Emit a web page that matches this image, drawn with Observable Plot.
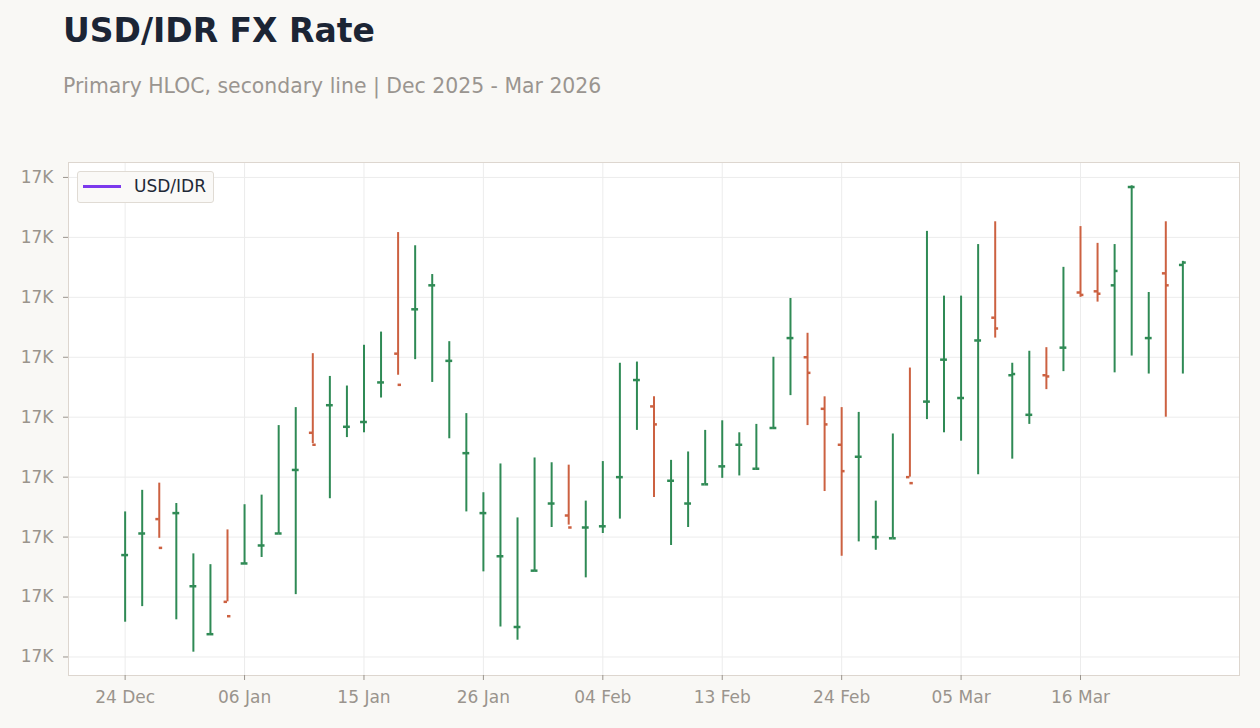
<!DOCTYPE html>
<html>
<head>
<meta charset="utf-8">
<script src="https://cdn.jsdelivr.net/npm/d3@7"></script>
<script src="https://cdn.jsdelivr.net/npm/@observablehq/plot@0.6"></script>
<style>
  html, body { margin: 0; padding: 0; background: #f9f8f5; width: 1260px; height: 728px; overflow: hidden; font-family: "DejaVu Sans", sans-serif; }
  #title { position: absolute; left: 63px; top: 14px; font-size: 33px; line-height: 33px; font-weight: bold; color: #1c2535; white-space: nowrap; }
  #subtitle { position: absolute; left: 63px; top: 76px; font-size: 20.4px; line-height: 20px; color: #9a9590; white-space: nowrap; }
  #chart { position: absolute; left: 0; top: 150px; }
  #legend { position: absolute; left: 77px; top: 171px; width: 135px; height: 30px; border: 1px solid #e0dbd4; border-radius: 3px; background: #faf9f7; }
  #legend .sw { position: absolute; left: 5px; top: 13px; width: 38px; height: 3px; background: #7c3aed; }
  #legend .lb { position: absolute; left: 56px; top: 6px; font-size: 17px; line-height: 17px; color: #1f2937; white-space: nowrap; }
</style>
</head>
<body>
<div id="title">USD/IDR FX Rate</div>
<div id="subtitle">Primary HLOC, secondary line | Dec 2025 - Mar 2026</div>
<div id="chart"></div>
<div id="legend"><div class="sw"></div><div class="lb">USD/IDR</div></div>
<script>
// Trading days
const dates = [
  "2025-12-24","2025-12-26","2025-12-29","2025-12-30","2025-12-31",
  "2026-01-02","2026-01-05","2026-01-06","2026-01-07","2026-01-08","2026-01-09",
  "2026-01-12","2026-01-13","2026-01-14","2026-01-15","2026-01-16",
  "2026-01-19","2026-01-20","2026-01-21","2026-01-22","2026-01-23",
  "2026-01-26","2026-01-27","2026-01-28","2026-01-29","2026-01-30",
  "2026-02-02","2026-02-03","2026-02-04","2026-02-05","2026-02-06",
  "2026-02-09","2026-02-10","2026-02-11","2026-02-12","2026-02-13",
  "2026-02-16","2026-02-17","2026-02-18","2026-02-19","2026-02-20",
  "2026-02-23","2026-02-24","2026-02-25","2026-02-26","2026-02-27",
  "2026-03-02","2026-03-03","2026-03-04","2026-03-05","2026-03-06",
  "2026-03-09","2026-03-10","2026-03-11","2026-03-12","2026-03-13",
  "2026-03-16","2026-03-17","2026-03-18","2026-03-19","2026-03-20",
  "2026-03-23","2026-03-24"
];
const highs = [
  16621,16639,16645,16628,16586,16577,16606,16627,16635,16693,16708,
  16753,16734,16726,16760,16771,16854,16843,16819,16763,16703,
  16637,16661,16616,16666,16662,16660,16630,16663,16745,16746,
  16717,16664,16671,16689,16697,16687,16694,16750,16799,16770,
  16717,16708,16704,16630,16686,16741,16855,16801,16801,16844,
  16863,16745,16755,16758,16825,16859,16845,16844,16893,16804,
  16863,16830
];
const lows = [
  16529,16542,16599,16531,16504,16519,16546,16578,16583,16603,16552,
  16678,16632,16683,16687,16716,16735,16748,16729,16682,16621,
  16571,16525,16514,16572,16608,16610,16566,16603,16615,16689,
  16633,16593,16608,16644,16649,16651,16657,16691,16718,16693,
  16638,16584,16596,16589,16599,16650,16698,16687,16680,16652,
  16766,16665,16694,16723,16738,16800,16796,16737,16751,16736,
  16700,16736
];
const opens = [
  16585,16603,16615,16620,16559,16519,16546,16578,16593,16603,16656,
  16687,16710,16692,16696,16729,16753,16790,16810,16747,16670,
  16620,16584,16525,16572,16628,16618,16608,16609,16650,16731,
  16709,16647,16628,16644,16659,16677,16657,16691,16766,16750,
  16707,16677,16667,16600,16599,16650,16713,16748,16716,16764,
  16783,16735,16702,16735,16758,16804,16805,16810,16892,16766,
  16820,16827
];
const closes = [
  16585,16603,16591,16620,16559,16519,16534,16578,16593,16603,16656,
  16677,16710,16692,16696,16729,16727,16790,16810,16747,16670,
  16620,16584,16525,16572,16628,16608,16608,16609,16650,16731,
  16694,16647,16628,16644,16659,16677,16657,16691,16766,16737,
  16694,16655,16667,16600,16599,16645,16713,16748,16716,16764,
  16774,16736,16702,16734,16758,16802,16803,16822,16892,16766,
  16810,16829
];
const xTickLabels = ["24 Dec","06 Jan","15 Jan","26 Jan","04 Feb","13 Feb","24 Feb","05 Mar","16 Mar"];
const yTicks = [16500,16550,16600,16650,16700,16750,16800,16850,16900];

const fmtDay = d3.utcFormat("%d %b");
const data = dates.map((d, i) => ({
  i, date: new Date(d + "T00:00:00Z"),
  open: opens[i], high: highs[i], low: lows[i], close: closes[i],
  up: closes[i] >= opens[i]
}));
const xTicks = data.filter(d => xTickLabels.includes(fmtDay(d.date))).map(d => d.i);
const labelByIndex = new Map(data.map(d => [d.i, fmtDay(d.date)]));

const GREEN = "#2f8a55", RED = "#cc6141";
const tl = 0.2;
const n = data.length;
const xspan = (n - 1) + 2 * tl;
const xDomain = [-tl - 0.05 * xspan, n - 1 + tl + 0.05 * xspan];
const yMin = d3.min(lows), yMax = d3.max(highs);
const yPad = 0.05 * (yMax - yMin);
const yDomain = [yMin - yPad, yMax + yPad];

const chart = Plot.plot({
  width: 1260,
  height: 578,
  marginTop: 12,
  marginBottom: 53,
  marginLeft: 68,
  marginRight: 21,
  style: { fontFamily: "DejaVu Sans, sans-serif", fontSize: "17px", color: "#9a948d", background: "transparent", overflow: "visible" },
  x: { type: "linear", domain: xDomain },
  y: { domain: yDomain },
  marks: [
    Plot.frame({ fill: "white", stroke: null }),
    Plot.gridY(yTicks, { stroke: "#ececec", strokeOpacity: 1 }),
    Plot.gridX(xTicks, { stroke: "#ececec", strokeOpacity: 1 }),
    Plot.frame({ stroke: "#ddd6cf" }),
    Plot.axisY({ ticks: yTicks, tickFormat: d => (d / 1000).toFixed(0) + "K", tickSize: 5, tickPadding: 10, stroke: "#9a948d", label: null }),
    Plot.axisX({ ticks: xTicks, tickFormat: i => labelByIndex.get(i), tickSize: 5, tickPadding: 10, stroke: "#9a948d", label: null }),
    Plot.ruleX(data, { x: "i", y1: "low", y2: "high", stroke: d => d.up ? GREEN : RED, strokeWidth: 2 }),
    Plot.ruleY(data, { y: "open", x1: d => d.i - tl, x2: "i", stroke: d => d.up ? GREEN : RED, strokeWidth: 2.5 }),
    Plot.ruleY(data, { y: "close", x1: "i", x2: d => d.i + tl, stroke: d => d.up ? GREEN : RED, strokeWidth: 2.5 })
  ]
});
document.getElementById("chart").appendChild(chart);
</script>
</body>
</html>
